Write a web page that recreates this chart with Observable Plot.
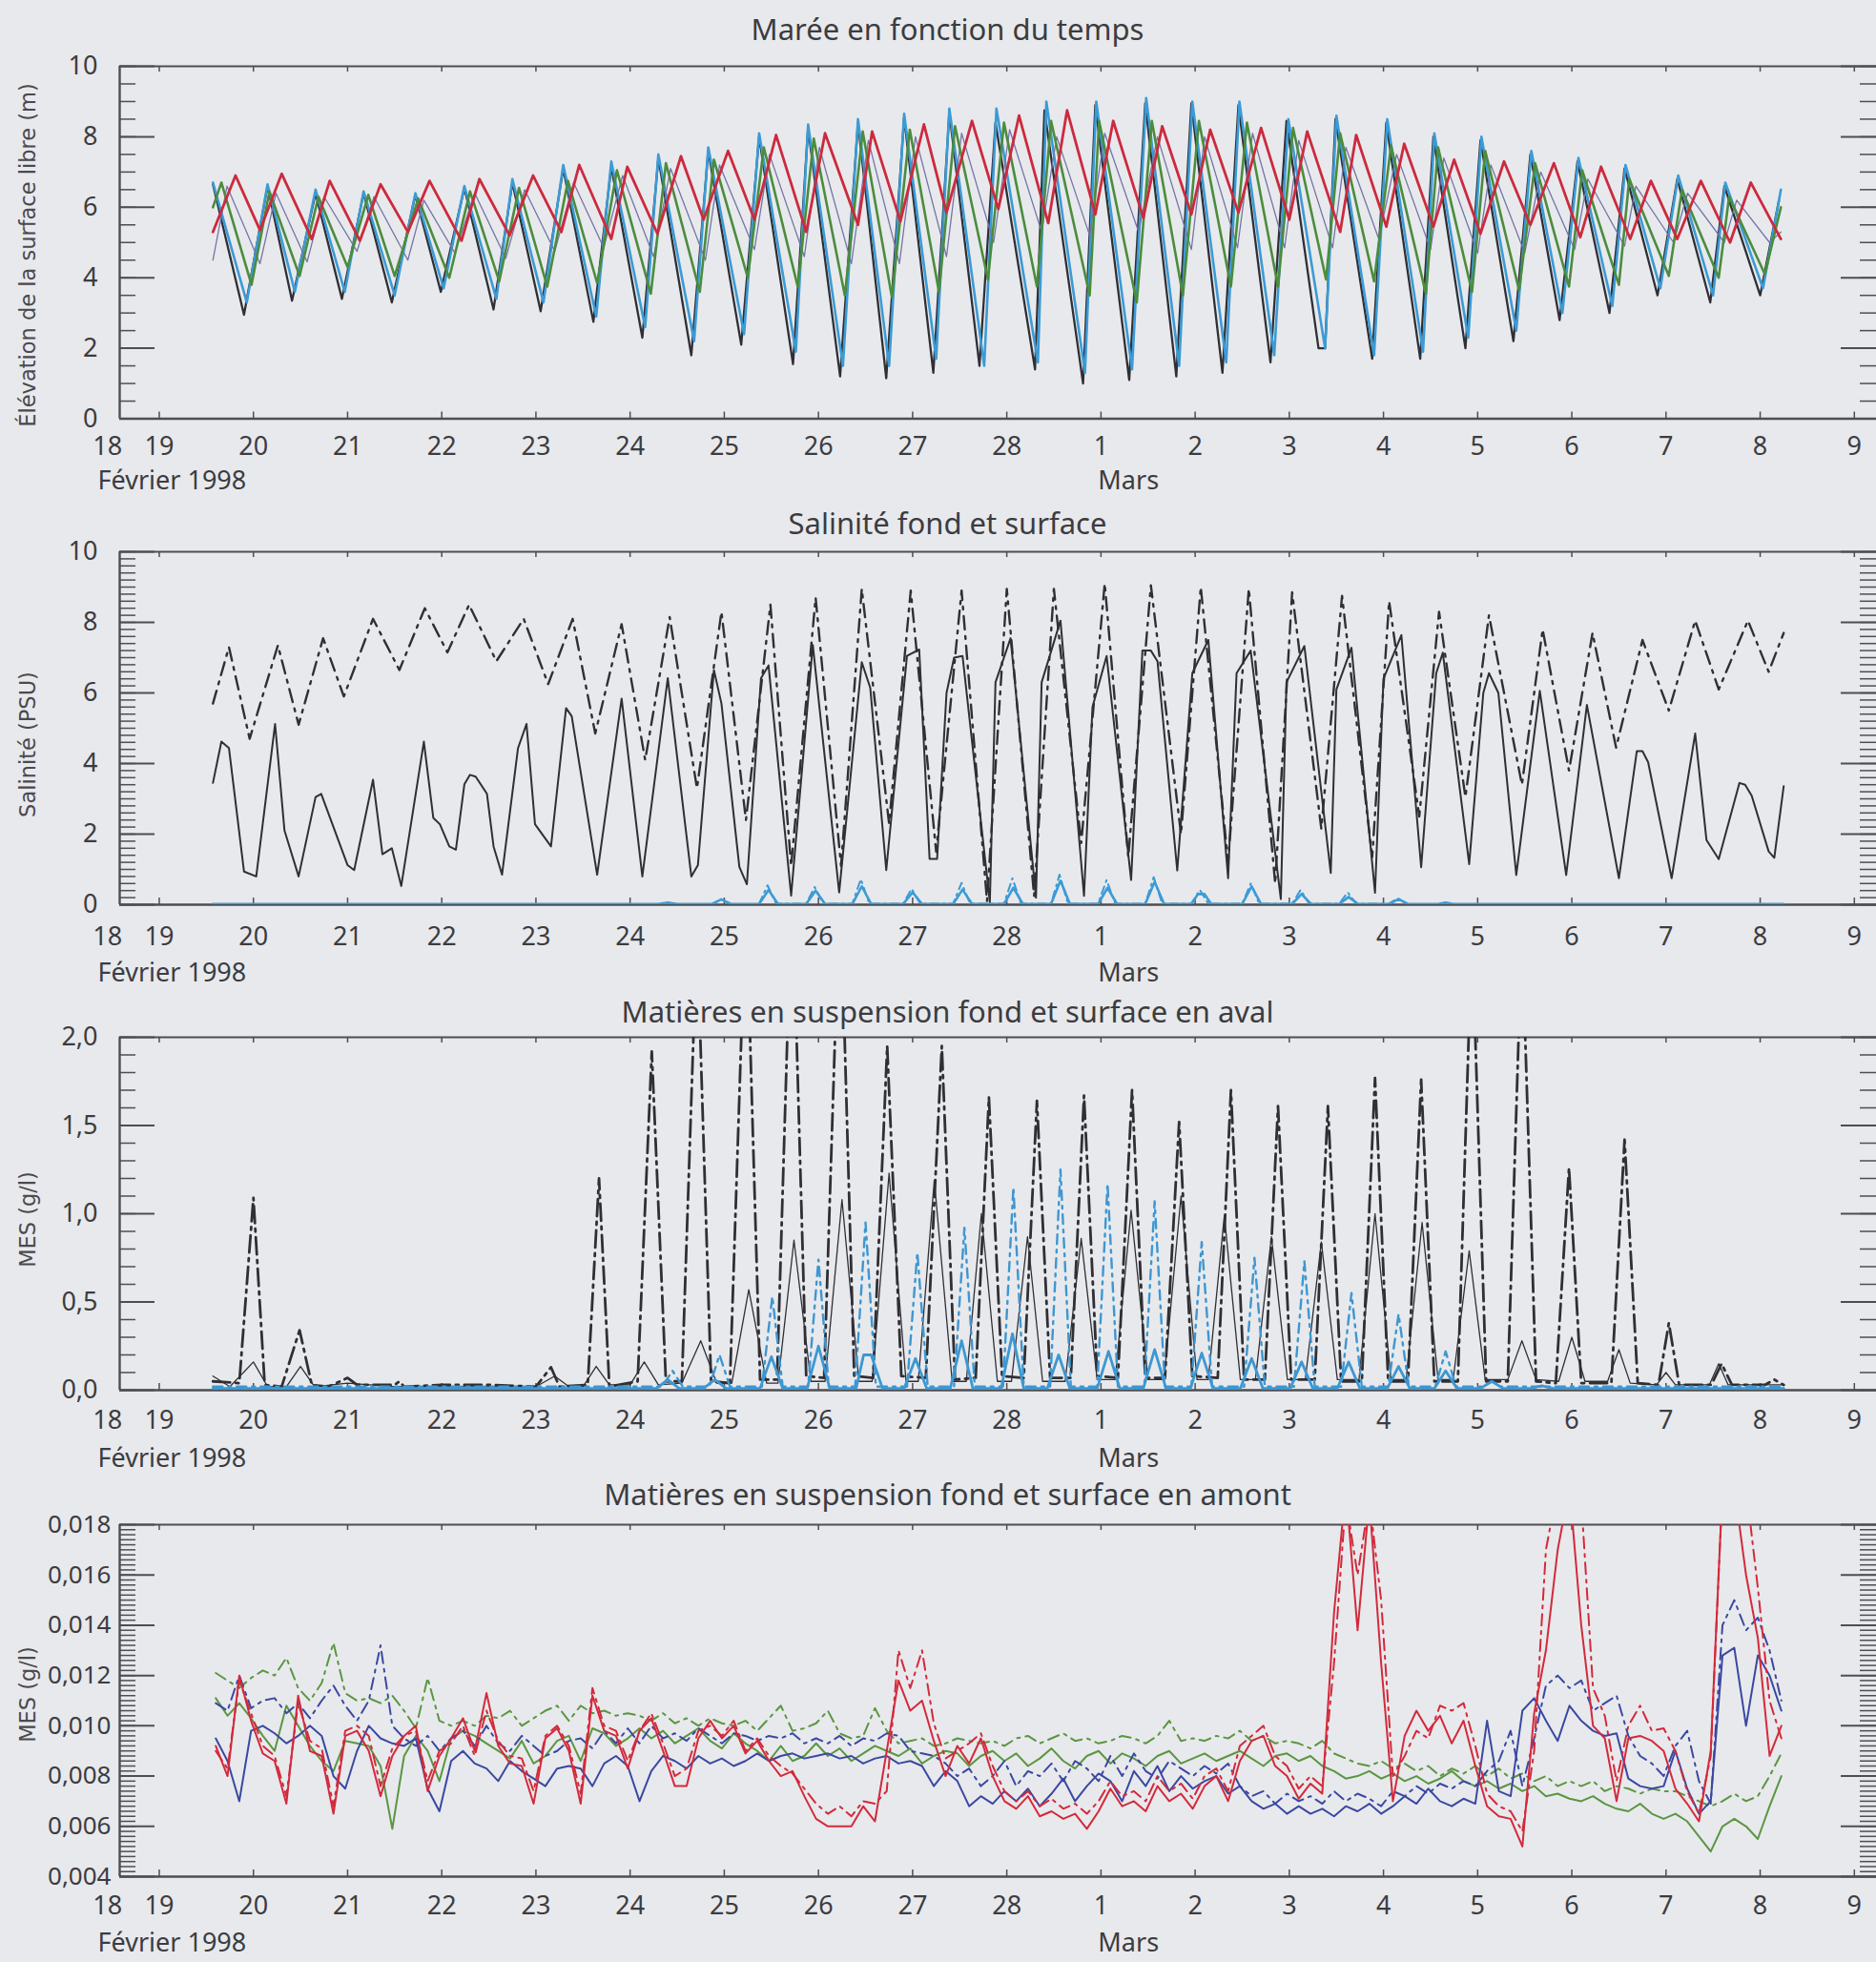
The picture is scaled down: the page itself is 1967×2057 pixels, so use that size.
<!DOCTYPE html>
<html><head><meta charset="utf-8">
<script src="https://cdn.jsdelivr.net/npm/d3@7"></script>
<script src="https://cdn.jsdelivr.net/npm/@observablehq/plot@0.6"></script>
<style>
html,body{margin:0;padding:0;background:#e8e9ec;overflow:hidden;}
#chart{position:relative;width:1967px;height:2057px;overflow:hidden;background:#e8e9ec;}
</style></head><body><div id="chart"></div>
<script>
// ---------- axis categories / tick labels ----------
const xLabelDays = [18.45,19,20,21,22,23,24,25,26,27,28,29,30,31,32,33,34,35,36,37];
const xLabelTexts = ["18","19","20","21","22","23","24","25","26","27","28","1","2","3","4","5","6","7","8","9"];
const xTickDays = [19,20,21,22,23,24,25,26,27,28,29,30,31,32,33,34,35,36,37];
const monthLabels = ["Février 1998","Mars"];
const marsDay = 29;
const titles = ["Marée en fonction du temps","Salinité fond et surface","Matières en suspension fond et surface en aval","Matières en suspension fond et surface en amont"];
const yTitles = ["Élévation de la surface libre (m)","Salinité (PSU)","MES (g/l)","MES (g/l)"];
const yTicks1 = [0,2,4,6,8,10], yLabels1 = ["0","2","4","6","8","10"];
const yTicks3 = [0,0.5,1,1.5,2], yLabels3 = ["0,0","0,5","1,0","1,5","2,0"];
const yTicks4 = [0.004,0.006,0.008,0.010,0.012,0.014,0.016,0.018];
const yLabels4 = ["0,004","0,006","0,008","0,010","0,012","0,014","0,016","0,018"];

// ---------- Panel 1 : tide elevation (m), time in days (Feb 18 = 18, Mar 1 = 29) ----------
const tideBlackT = [19.57,19.90,20.15,20.41,20.66,20.94,21.17,21.47,21.72,21.99,22.24,22.55,22.75,23.05,23.29,23.61,23.80,24.13,24.30,24.65,24.83,25.18,25.37,25.73,25.89,26.23,26.42,26.72,26.91,27.22,27.39,27.71,27.88,28.30,28.40,28.81,28.94,29.30,29.47,29.80,29.96,30.29,30.46,30.80,30.97,31.31,31.38,31.49,31.88,32.03,32.39,32.53,32.87,33.03,33.38,33.56,33.87,34.06,34.40,34.56,34.91,35.12,35.47,35.62,36.00,36.20];
const tideBlackV = [6.65,2.95,6.6,3.35,6.4,3.4,6.4,3.3,6.35,3.6,6.55,3.1,6.7,3.05,7.1,2.75,7.15,2.3,7.4,1.8,7.6,2.1,8.0,1.55,8.25,1.2,8.4,1.15,8.55,1.3,8.7,1.5,8.4,1.4,8.75,1.0,8.9,1.1,8.95,1.2,8.95,1.3,8.9,1.6,8.45,2.0,2.0,8.5,1.7,8.4,1.7,8.0,2.0,7.9,2.2,7.5,2.8,7.3,3.0,7.1,3.5,6.8,3.3,6.6,3.5,6.2];
const tideBlueT = [19.57,19.93,20.15,20.44,20.66,20.97,21.17,21.50,21.72,22.02,22.24,22.58,22.75,23.08,23.29,23.64,23.80,24.16,24.30,24.68,24.83,25.21,25.37,25.76,25.89,26.26,26.42,26.75,26.91,27.25,27.39,27.76,27.89,28.33,28.42,28.83,28.95,29.33,29.48,29.83,29.97,30.33,30.47,30.84,30.99,31.38,31.50,31.90,32.04,32.42,32.54,32.90,33.04,33.41,33.57,33.90,34.07,34.43,34.57,34.94,35.13,35.50,35.63,36.03,36.22];
const tideBlueV = [6.7,3.3,6.65,3.6,6.5,3.6,6.45,3.5,6.4,3.7,6.6,3.4,6.8,3.3,7.2,2.9,7.3,2.6,7.5,2.2,7.7,2.4,8.1,1.9,8.35,1.5,8.5,1.5,8.65,1.7,8.8,1.5,8.8,1.6,9.0,1.3,9.0,1.4,9.1,1.5,9.0,1.6,9.0,1.8,8.5,2.0,8.6,1.8,8.5,1.9,8.1,2.3,8.0,2.5,7.6,3.0,7.4,3.2,7.2,3.7,6.9,3.5,6.7,3.7,6.5];
const tideGreenT = [19.57,19.66,19.98,20.17,20.49,20.69,21.00,21.22,21.50,21.75,22.08,22.30,22.61,22.82,23.12,23.34,23.65,23.86,24.22,24.38,24.74,24.89,25.25,25.42,25.78,25.95,26.28,26.47,26.78,26.97,27.28,27.45,27.80,27.97,28.32,28.47,28.88,28.98,29.38,29.54,29.87,30.04,30.38,30.55,30.88,31.04,31.39,31.54,31.90,32.08,32.45,32.58,32.94,33.08,33.44,33.61,33.97,34.11,34.50,34.61,35.03,35.17,35.56,35.67,36.05,36.22];
const tideGreenV = [6.0,6.7,3.8,6.45,4.05,6.3,4.3,6.35,4.05,6.25,4.0,6.45,3.9,6.55,3.75,6.75,3.85,7.05,3.55,7.25,3.6,7.35,4.0,7.7,3.75,7.95,3.5,8.15,3.45,8.2,3.6,8.3,3.95,8.4,3.75,8.45,3.5,8.45,3.3,8.45,3.5,8.45,3.75,8.4,3.75,8.25,3.95,8.1,3.9,7.75,3.55,7.7,3.6,7.6,3.65,7.25,3.75,7.05,3.8,6.8,4.05,6.5,4.0,6.3,4.1,6.0];
const tidePurpleT = [19.57,19.72,20.07,20.24,20.57,20.75,21.10,21.28,21.64,21.81,22.14,22.35,22.68,22.88,23.20,23.40,23.72,23.92,24.25,24.43,24.80,24.95,25.32,25.48,25.85,26.01,26.35,26.53,26.86,27.03,27.36,27.52,27.86,28.03,28.37,28.53,28.88,29.04,29.40,29.60,29.96,30.10,30.45,30.61,30.95,31.10,31.46,31.60,31.95,32.14,32.50,32.64,33.00,33.14,33.50,33.67,34.03,34.17,34.56,34.68,35.08,35.23,35.62,35.75,36.10,36.22];
const tidePurpleV = [4.5,6.6,4.4,6.4,4.45,6.3,4.75,6.3,4.5,6.2,4.7,6.4,4.55,6.5,4.75,6.7,4.85,6.9,4.6,7.1,4.5,7.2,4.8,7.5,4.6,7.7,4.4,7.9,4.4,8.0,4.6,8.1,5.0,8.2,5.3,8.0,5.2,8.1,5.3,8.0,4.8,8.0,4.85,8.1,4.85,7.9,4.85,7.7,5.1,7.5,4.8,7.4,4.7,7.2,4.7,7.0,4.8,6.8,4.9,6.6,5.0,6.4,5.0,6.2,5.0,5.3];
const tideRedT = [19.57,19.81,20.07,20.30,20.62,20.81,21.13,21.35,21.64,21.87,22.21,22.40,22.72,22.97,23.27,23.46,23.80,23.97,24.29,24.54,24.78,25.04,25.32,25.55,25.87,26.07,26.42,26.57,26.87,27.12,27.36,27.63,27.91,28.13,28.44,28.64,28.94,29.13,29.45,29.65,29.96,30.16,30.46,30.70,31.00,31.19,31.54,31.71,32.03,32.22,32.53,32.75,33.03,33.28,33.56,33.81,34.09,34.31,34.62,34.84,35.12,35.37,35.68,35.90,36.22];
const tideRedV = [5.3,6.9,5.35,6.95,5.1,6.75,5.05,6.65,5.3,6.75,5.05,6.8,5.2,6.9,5.3,7.2,5.1,7.15,5.25,7.45,5.65,7.6,5.65,8.05,5.3,8.1,5.5,8.15,5.6,8.35,5.85,8.45,5.95,8.6,5.55,8.75,5.8,8.45,5.7,8.3,5.8,8.2,5.85,8.25,5.65,8.15,5.3,8.05,5.45,7.8,5.45,7.35,5.25,7.3,5.5,7.25,5.15,7.15,5.1,6.75,5.1,6.75,5.0,6.7,5.1];

// ---------- Panel 2 : salinity (PSU) ----------
const salFondT = [19.57,19.74,19.96,20.26,20.48,20.74,20.96,21.27,21.55,21.82,22.06,22.29,22.58,22.87,23.13,23.39,23.63,23.91,24.16,24.42,24.71,24.97,25.23,25.49,25.71,25.97,26.24,26.46,26.75,26.98,27.25,27.52,27.79,28.00,28.29,28.50,28.79,29.04,29.29,29.53,29.85,30.06,30.35,30.57,30.85,31.03,31.34,31.56,31.88,32.06,32.38,32.59,32.87,33.12,33.47,33.69,33.97,34.22,34.47,34.75,35.03,35.31,35.56,35.87,36.09,36.25];
const salFondV = [5.7,7.3,4.7,7.35,5.1,7.55,5.9,8.1,6.65,8.4,7.15,8.5,6.9,8.1,6.25,8.1,4.85,7.95,4.1,8.15,3.3,8.3,2.4,8.5,1.1,8.7,1.1,8.95,2.3,8.9,1.5,8.9,0.1,8.95,0.25,8.95,1.75,9.1,1.35,9.05,2.0,9.0,1.2,8.95,0.6,8.85,2.15,8.75,1.35,8.6,2.5,8.3,3.05,8.2,3.4,7.8,3.8,7.7,4.45,7.5,5.5,8.05,6.1,8.05,6.6,7.7];
const salSurfT = [19.57,19.66,19.74,19.90,20.03,20.23,20.33,20.48,20.66,20.72,21.00,21.07,21.27,21.37,21.47,21.57,21.81,21.91,21.98,22.08,22.15,22.24,22.30,22.36,22.48,22.55,22.64,22.81,22.90,22.99,23.16,23.32,23.38,23.65,23.91,24.13,24.40,24.65,24.72,24.89,24.97,25.16,25.24,25.39,25.47,25.71,25.94,26.22,26.46,26.55,26.72,26.94,27.07,27.18,27.26,27.36,27.44,27.53,27.82,27.88,28.04,28.31,28.37,28.57,28.82,28.91,29.06,29.32,29.44,29.53,29.60,29.81,29.97,30.14,30.35,30.44,30.59,30.91,30.97,31.16,31.44,31.50,31.66,31.91,32.00,32.19,32.40,32.56,32.63,32.91,33.06,33.12,33.22,33.41,33.66,33.94,34.16,34.50,34.69,34.75,34.81,35.06,35.31,35.43,35.56,35.78,35.84,35.91,36.09,36.15,36.25];
const salSurfV = [3.45,4.62,4.44,0.94,0.8,5.12,2.1,0.8,3.05,3.14,1.12,0.98,3.54,1.43,1.6,0.53,4.62,2.46,2.28,1.65,1.56,3.41,3.68,3.63,3.14,1.65,0.85,4.44,5.12,2.28,1.65,5.57,5.34,0.85,5.84,0.8,6.42,0.8,1.12,6.65,5.7,1.07,0.58,6.42,6.78,0.26,7.36,0.35,6.87,6.15,0.98,7.05,7.23,1.3,1.3,6.0,7.0,7.05,0.07,6.3,7.55,0.2,6.3,8.05,0.25,5.6,7.05,0.7,7.2,7.2,6.9,0.97,6.56,7.5,0.75,6.56,7.2,0.16,6.3,7.33,0.9,6.1,7.28,0.34,6.4,7.64,1.06,6.56,7.14,1.15,6.0,6.56,6.0,0.84,6.06,0.84,5.66,0.75,4.35,4.35,4.04,0.75,4.85,1.83,1.29,3.45,3.4,3.09,1.51,1.33,3.36];
const salBlueT = [19.57, 24.3,24.4,24.5, 24.87,24.97,25.07, 25.37,25.47,25.57, 25.87,25.97,26.07, 26.36,26.46,26.56, 26.90,27.0,27.1, 27.43,27.53,27.63, 27.97,28.07,28.17, 28.47,28.57,28.67, 28.97,29.07,29.17, 29.47,29.57,29.67, 29.96,30.03,30.10,30.17, 30.50,30.60,30.70, 31.03,31.13,31.23, 31.53,31.63,31.73, 32.06,32.16,32.26, 32.58,32.66,32.74, 36.25];
const salBlueV = [0.02, 0.02,0.06,0.02, 0.02,0.15,0.02, 0.02,0.42,0.02, 0.02,0.40,0.02, 0.02,0.52,0.02, 0.02,0.35,0.02, 0.02,0.43,0.02, 0.02,0.48,0.02, 0.02,0.68,0.02, 0.02,0.48,0.02, 0.02,0.65,0.02, 0.02,0.30,0.30,0.02, 0.02,0.52,0.02, 0.02,0.30,0.02, 0.02,0.22,0.02, 0.02,0.16,0.02, 0.02,0.06,0.02, 0.02];
const salBlueDashT = [25.37,25.46,25.55, 25.87,25.96,26.05, 26.36,26.45,26.54, 26.90,26.99,27.08, 27.43,27.52,27.61, 27.97,28.06,28.15, 28.47,28.56,28.65, 28.97,29.06,29.15, 29.47,29.56,29.65, 29.96,30.05,30.14, 30.50,30.59,30.68, 31.03,31.12,31.21, 31.53,31.62,31.71, 32.06,32.15,32.24];
const salBlueDashV = [0.03,0.55,0.03, 0.03,0.5,0.03, 0.03,0.72,0.03, 0.03,0.45,0.03, 0.03,0.62,0.03, 0.03,0.75,0.03, 0.03,0.85,0.03, 0.03,0.7,0.03, 0.03,0.78,0.03, 0.03,0.42,0.03, 0.03,0.6,0.03, 0.03,0.42,0.03, 0.03,0.35,0.03, 0.03,0.18,0.03];

// ---------- Panel 3 : MES aval (g/l) ----------
const avalFondT = [19.57,19.85,20.0,20.12,20.3,20.49,20.62,20.8,21.0,21.1,21.5,21.55,21.6,22.0,22.5,23.0,23.16,23.25,23.55,23.67,23.78,24.08,24.23,24.38,24.55,24.71,24.86,25.06,25.23,25.38,25.56,25.72,25.87,26.06,26.23,26.38,26.58,26.73,26.88,27.14,27.31,27.45,27.67,27.81,27.95,28.18,28.32,28.46,28.68,28.82,28.96,29.18,29.33,29.47,29.68,29.83,29.97,30.24,30.38,30.52,30.74,30.88,31.02,31.27,31.41,31.55,31.77,31.91,32.05,32.26,32.40,32.54,32.79,32.94,33.09,33.32,33.47,33.62,33.83,33.97,34.1,34.42,34.56,34.7,34.92,35.03,35.14,35.48,35.59,35.7,36.05,36.15,36.25];
const avalFondV = [0.05,0.04,1.09,0.03,0.02,0.34,0.03,0.02,0.07,0.03,0.03,0.05,0.02,0.03,0.03,0.02,0.13,0.02,0.03,1.2,0.02,0.05,1.92,0.05,0.05,2.6,0.05,0.04,2.8,0.06,0.06,2.9,0.08,0.07,2.9,0.08,0.07,1.95,0.08,0.07,1.95,0.06,0.07,1.66,0.08,0.07,1.64,0.07,0.07,1.67,0.08,0.07,1.70,0.07,0.07,1.52,0.08,0.07,1.70,0.06,0.06,1.61,0.06,0.06,1.61,0.05,0.05,1.77,0.05,0.05,1.76,0.05,0.05,2.6,0.05,0.05,2.6,0.05,0.04,1.26,0.04,0.04,1.42,0.04,0.03,0.38,0.03,0.03,0.15,0.03,0.03,0.06,0.03];
const avalSurfT = [19.57,19.75,20.0,20.15,20.35,20.5,20.65,21.0,21.5,22.0,23.0,23.2,23.35,23.5,23.64,23.78,24.0,24.15,24.3,24.55,24.75,24.92,25.08,25.26,25.45,25.57,25.74,25.92,26.07,26.25,26.43,26.57,26.75,26.93,27.06,27.23,27.42,27.57,27.73,27.90,28.05,28.22,28.38,28.62,28.79,28.96,29.15,29.32,29.50,29.67,29.85,30.02,30.14,30.31,30.48,30.64,30.81,30.98,31.17,31.34,31.51,31.74,31.91,32.08,32.24,32.41,32.58,32.74,32.91,33.08,33.32,33.47,33.62,33.86,34.0,34.14,34.38,34.5,34.62,34.9,35.0,35.1,35.46,35.56,35.66,36.25];
const avalSurfV = [0.08,0.02,0.16,0.02,0.02,0.135,0.02,0.04,0.02,0.02,0.02,0.08,0.02,0.02,0.135,0.03,0.03,0.16,0.03,0.04,0.28,0.04,0.04,0.57,0.04,0.04,0.85,0.05,0.05,1.08,0.05,0.05,1.23,0.05,0.05,1.19,0.05,0.05,1.0,0.05,0.05,0.87,0.05,0.05,0.86,0.06,0.06,1.02,0.06,0.06,1.1,0.06,0.06,0.99,0.06,0.06,0.87,0.06,0.06,0.84,0.06,0.06,1.0,0.06,0.06,0.95,0.06,0.06,0.79,0.06,0.06,0.28,0.06,0.05,0.3,0.05,0.05,0.23,0.04,0.03,0.1,0.03,0.03,0.15,0.03,0.03];
const avalBlueDashT = [19.57,24.34,24.45,24.56,24.84,24.95,25.06,25.40,25.51,25.62,25.89,26.0,26.11,26.39,26.5,26.61,26.94,27.05,27.16,27.44,27.55,27.66,27.96,28.07,28.18,28.46,28.57,28.68,28.96,29.07,29.18,29.46,29.57,29.68,29.96,30.07,30.18,30.52,30.63,30.74,31.05,31.16,31.27,31.55,31.66,31.77,32.05,32.16,32.27,32.55,32.66,32.77,33.06,33.15,33.24,36.25];
const avalBlueDashV = [0.02, 0.02,0.11,0.02, 0.02,0.2,0.02, 0.02,0.53,0.02, 0.02,0.74,0.02, 0.02,0.95,0.02, 0.02,0.78,0.02, 0.02,0.92,0.02, 0.02,1.15,0.02, 0.02,1.25,0.02, 0.02,1.17,0.02, 0.02,1.07,0.02, 0.02,0.84,0.02, 0.02,0.75,0.02, 0.02,0.73,0.02, 0.02,0.55,0.02, 0.02,0.43,0.02, 0.02,0.22,0.02, 0.02,0.05,0.02, 0.02];
const avalBlueT = [19.57, 24.28,24.4,24.52, 24.78,24.9,25.02, 25.38,25.5,25.62, 25.88,26.0,26.12, 26.40,26.48,26.56,26.68, 26.91,27.03,27.15, 27.40,27.52,27.64, 27.94,28.06,28.18, 28.43,28.55,28.67, 28.96,29.08,29.20, 29.45,29.57,29.69, 29.95,30.07,30.19, 30.48,30.60,30.72, 31.01,31.13,31.25, 31.51,31.63,31.75, 32.04,32.16,32.28, 32.54,32.66,32.78, 33.03,33.15,33.27, 33.56,33.68,33.8, 36.25];
const avalBlueV = [0.01, 0.01,0.06,0.01, 0.01,0.06,0.01, 0.01,0.19,0.01, 0.01,0.25,0.01, 0.01,0.2,0.2,0.01, 0.01,0.18,0.01, 0.01,0.28,0.01, 0.01,0.32,0.01, 0.01,0.2,0.01, 0.01,0.22,0.01, 0.01,0.23,0.01, 0.01,0.21,0.01, 0.01,0.18,0.01, 0.01,0.16,0.01, 0.01,0.16,0.01, 0.01,0.135,0.01, 0.01,0.11,0.01, 0.01,0.05,0.01, 0.01,0.025,0.01, 0.01];

// ---------- Panel 4 : MES amont, values in mg/l (= 0.001 g/l), 3-hourly ----------
const amontT = [19.6,19.725,19.85,19.975,
20.1,20.225,20.35,20.475,20.6,20.725,20.85,20.975,
21.1,21.225,21.35,21.475,21.6,21.725,21.85,21.975,
22.1,22.225,22.35,22.475,22.6,22.725,22.85,22.975,
23.1,23.225,23.35,23.475,23.6,23.725,23.85,23.975,
24.1,24.225,24.35,24.475,24.6,24.725,24.85,24.975,
25.1,25.225,25.35,25.475,25.6,25.725,25.85,25.975,
26.1,26.225,26.35,26.475,26.6,26.725,26.85,26.975,
27.1,27.225,27.35,27.475,27.6,27.725,27.85,27.975,
28.1,28.225,28.35,28.475,28.6,28.725,28.85,28.975,
29.1,29.225,29.35,29.475,29.6,29.725,29.85,29.975,
30.1,30.225,30.35,30.475,30.6,30.725,30.85,30.975,
31.1,31.225,31.35,31.475,31.6,31.725,31.85,31.975,
32.1,32.225,32.35,32.475,32.6,32.725,32.85,32.975,
33.1,33.225,33.35,33.475,33.6,33.725,33.85,33.975,
34.1,34.225,34.35,34.475,34.6,34.725,34.85,34.975,
35.1,35.225,35.35,35.475,35.6,35.725,35.85,35.975,
36.1,36.225];
const amontGreenDash = [12.1,11.8,11.5,11.9,
12.2,12.0,12.7,11.5,11.0,11.7,13.3,11.3,
11.0,11.1,10.9,11.2,10.6,9.9,11.9,10.2,
10.0,10.2,10.0,10.4,10.3,10.6,10.0,10.3,
10.6,10.8,10.2,10.8,10.5,10.6,10.4,10.5,
10.4,10.2,10.5,10.1,10.3,10.0,10.3,10.1,
10.0,10.2,9.8,10.3,10.8,9.8,9.9,10.1,
10.6,9.7,9.5,9.6,10.7,9.8,9.3,9.4,
9.5,9.2,9.3,9.5,9.4,9.3,9.4,9.2,
9.5,9.6,9.3,9.5,9.7,9.4,9.5,9.3,
9.4,9.6,9.5,9.3,9.6,10.2,9.4,9.5,
9.4,9.6,9.5,9.8,9.4,9.6,9.3,9.4,
9.3,9.1,9.4,8.9,8.7,8.5,8.4,8.6,
8.3,8.5,8.2,8.4,8.0,8.3,8.1,8.4,
8.0,8.3,7.9,8.1,7.8,8.0,7.6,7.8,
7.6,7.8,7.4,7.6,7.5,7.3,7.5,7.4,
7.4,7.2,7.0,6.8,7.0,7.3,7.0,7.2,
8.0,8.9];
const amontGreen = [11.1,10.4,10.9,10.3,
9.6,9.0,10.8,10.0,9.2,8.6,8.2,9.4,
9.3,9.2,8.4,5.9,8.8,9.6,9.0,7.8,
9.5,9.8,9.6,9.3,9.0,8.7,9.4,8.5,
8.8,9.4,9.6,8.6,9.9,9.7,9.2,9.5,
9.9,9.5,9.8,9.3,9.6,9.9,9.4,9.1,
9.7,9.3,9.0,8.6,9.2,8.6,8.8,9.3,
8.8,9.1,8.6,8.9,9.2,9.0,8.8,9.1,
8.5,8.8,9.0,8.9,8.4,8.8,9.0,8.6,
8.9,8.4,8.7,9.1,8.6,8.3,8.8,9.0,
8.5,8.9,8.7,8.4,8.8,9.0,8.5,8.7,
8.9,8.6,8.8,9.0,8.7,8.4,8.8,8.9,
8.6,8.8,8.4,8.2,7.9,8.0,8.2,7.9,
8.1,7.8,8.0,7.7,7.9,8.2,7.8,7.6,
7.8,7.5,7.7,7.4,7.6,7.2,7.3,7.1,
7.0,7.2,6.9,6.7,6.6,6.9,6.5,6.3,
6.5,6.2,5.6,5.0,6.0,6.3,6.0,5.5,
6.8,8.0];
const amontBlueDash = [10.9,10.6,12.0,10.7,
11.0,11.1,10.5,10.9,10.3,11.0,11.6,10.8,
10.2,11.0,13.2,10.0,9.5,9.2,9.6,9.0,
9.5,9.8,9.2,10.0,9.3,9.0,9.6,9.2,
8.8,9.0,9.4,9.5,9.1,9.8,9.3,9.9,
9.3,10.0,9.5,9.7,9.4,9.9,9.6,9.3,
9.7,9.6,9.4,9.6,9.5,9.7,9.3,9.5,
9.3,9.6,9.2,9.5,9.4,9.7,9.6,9.0,
8.9,8.8,8.5,8.0,8.3,7.6,8.0,8.6,
7.6,8.2,8.0,8.5,7.8,8.6,8.3,7.8,
8.8,8.0,8.9,8.2,7.9,8.6,8.3,8.0,
8.4,8.1,8.5,7.6,7.2,7.4,6.9,7.3,
7.0,7.2,6.9,7.4,7.0,7.3,7.1,6.8,
7.4,7.2,7.6,7.3,7.7,7.5,7.8,7.6,
8.2,8.6,9.8,7.6,9.5,11.6,12.0,11.5,
11.8,10.6,10.9,11.2,9.6,8.8,8.5,8.0,
9.2,9.8,7.8,6.9,14.0,15.0,13.8,14.3,
13.0,11.0];
const amontBlue = [9.5,8.6,7.0,9.8,
10.0,9.7,9.3,9.6,10.0,9.6,8.0,7.5,
9.0,10.0,9.5,9.3,9.2,9.5,7.5,6.6,
8.6,9.0,8.5,8.3,7.8,8.6,8.2,7.9,
7.6,8.3,8.4,8.3,7.6,8.5,8.8,8.4,
7.0,8.2,8.8,8.6,8.3,8.8,8.5,8.7,
8.4,8.6,8.9,8.6,8.8,8.9,8.7,8.8,
8.9,8.7,8.8,8.5,8.7,8.8,8.5,8.6,
8.4,7.6,8.2,7.8,6.8,7.2,6.9,7.4,
7.0,7.5,6.8,7.3,7.9,7.0,7.6,8.1,
7.8,7.0,8.2,7.6,8.4,7.4,8.0,7.5,
7.8,8.0,7.3,7.6,7.0,6.7,6.9,6.5,
6.8,6.5,6.7,6.4,6.8,6.6,6.9,6.5,
6.8,7.2,6.9,7.5,7.0,6.8,7.1,6.9,
10.2,7.4,7.2,10.6,11.1,10.2,9.4,10.8,
10.2,9.8,9.6,9.7,7.9,7.6,7.5,7.6,
9.0,7.5,6.5,7.0,12.8,13.1,10.0,12.8,
12.0,10.6];
const amontRedDash = [9.0,8.3,11.8,10.5,
9.2,8.8,7.2,10.9,9.4,9.1,6.8,9.8,
10.0,9.6,7.6,9.1,9.6,9.8,7.8,9.0,
9.3,10.0,8.8,10.6,9.4,8.8,8.7,7.4,
9.6,10.0,9.2,7.3,11.5,10.0,9.8,8.6,
9.8,10.5,9.3,8.0,8.3,9.8,10.0,9.6,
10.2,9.0,9.5,8.8,8.4,8.1,7.5,6.9,
6.5,6.8,6.4,7.0,6.9,7.4,13.0,11.5,
13.0,10.1,8.7,9.0,9.3,9.7,8.4,7.4,
7.0,7.4,6.8,7.1,6.7,6.9,6.5,7.0,
7.8,7.2,7.4,7.0,8.0,7.4,7.7,7.1,
8.0,8.3,7.4,9.2,9.6,10.0,8.8,8.4,
7.5,8.0,7.6,12.5,19.0,16.0,19.0,15.0,
8.0,8.8,9.8,9.5,10.8,10.6,10.9,9.2,
7.3,6.8,6.6,5.8,9.0,17.0,19.5,19.5,
19.0,11.5,10.4,7.8,10.0,10.8,9.8,9.9,
9.0,7.4,6.5,8.8,19.5,19.5,19.5,15.5,
11.0,9.5];
const amontRed = [9.2,8.0,12.0,10.2,
8.9,8.6,6.9,11.2,9.0,8.8,6.5,9.6,
9.8,9.0,7.2,8.8,9.6,10.0,7.4,8.8,
9.5,10.3,9.0,11.3,9.2,8.5,8.4,6.9,
9.5,9.9,9.0,6.9,11.2,9.8,9.6,8.3,
9.8,10.3,9.0,7.6,7.6,9.5,10.2,9.5,
10.0,8.9,9.4,8.6,8.0,8.2,7.2,6.3,
6.0,6.0,6.0,6.8,6.2,9.0,11.8,10.6,
11.0,9.4,8.0,9.2,8.5,9.5,8.0,7.0,
6.7,7.2,6.4,6.6,6.3,6.5,5.9,6.6,
7.5,6.8,7.0,6.6,7.6,7.0,7.3,6.7,
7.6,8.0,7.0,8.6,9.4,9.6,8.4,8.0,
7.1,7.7,7.3,14.5,19.5,13.8,19.0,12.5,
7.0,9.6,10.6,9.8,10.4,9.3,10.2,8.4,
6.8,6.4,6.3,5.2,10.5,13.0,17.0,19.5,
14.0,10.0,9.5,7.0,9.5,9.6,9.4,9.0,
7.5,6.9,6.2,9.0,19.5,19.5,16.0,13.5,
8.8,10.0];

// ---------- rendering ----------
const W = 1967, ML = 125, TITLE_X = 993;
const X_DOMAIN = [18.58, 37.235];
const C = {axis:"#4e4e52", text:"#3c3c40", black:"#2f2f35", lblue:"#3b9bd6", green:"#4b8c3e", red:"#cc2a3e", purple:"#7474a8", navy:"#3a48a2", green4:"#5a9642", red4:"#d22a3c", blue3:"#3d97d2"};
const FONT = "'Noto Sans', 'Liberation Sans', Arial, sans-serif";
const YFONT = "'DejaVu Sans', Verdana, sans-serif";
const mg = a => a.map(v => v / 1000);

function panel(cfg) {
  const fh = cfg.frameBottom - cfg.frameTop;
  const fw = W - ML;
  const txt = {fill: C.text, fontFamily: FONT, fontSize: 27};
  const marks = [
    Plot.ruleY([cfg.yDomain[0]], {y: d => d, stroke: C.axis, strokeWidth: 2.4}),
    Plot.ruleY([cfg.yDomain[1]], {y: d => d, stroke: C.axis, strokeWidth: 2}),
    Plot.ruleX([X_DOMAIN[0]], {x: d => d, stroke: C.axis, strokeWidth: 2.4}),
    Plot.tickY(cfg.yMinor, {y: d => d, stroke: C.axis, strokeWidth: 1.5, insetRight: fw - 17}),
    Plot.tickY(cfg.yMinor, {y: d => d, stroke: C.axis, strokeWidth: 1.5, insetLeft: fw - 17}),
    Plot.tickY(cfg.yMajor, {y: d => d, stroke: C.axis, strokeWidth: 2, insetRight: fw - 37}),
    Plot.tickY(cfg.yMajor, {y: d => d, stroke: C.axis, strokeWidth: 2, insetLeft: fw - 37}),
    Plot.tickX(xTickDays, {x: d => d, stroke: C.axis, strokeWidth: 1.5, insetTop: fh - 7}),
    Plot.tickX(xTickDays, {x: d => d, stroke: C.axis, strokeWidth: 1.5, insetBottom: fh - 6}),
    ...cfg.lines.map(l => Plot.line(l.t, {x: l.t, y: l.v, stroke: l.color, strokeWidth: l.width, strokeDasharray: l.dash, clip: true, strokeLinejoin: "round"})),
    Plot.text(cfg.yMajor, {y: d => d, text: (d, i) => cfg.yLabels[i], frameAnchor: "left", dx: -cfg.labelGap, textAnchor: "end", lineAnchor: "middle", ...txt, fontSize: cfg.yFontSize || 27}),
    Plot.text(xLabelDays, {x: d => d, text: (d, i) => xLabelTexts[i], frameAnchor: "bottom", dy: cfg.tickDy, lineAnchor: "middle", ...txt}),
    Plot.text([monthLabels[0]], {text: d => d, frameAnchor: "bottom-left", dx: -23, dy: cfg.monthDy, textAnchor: "start", lineAnchor: "middle", ...txt}),
    Plot.text([monthLabels[1]], {text: d => d, x: [marsDay], frameAnchor: "bottom", dx: -3, dy: cfg.monthDy, textAnchor: "start", lineAnchor: "middle", ...txt}),
    Plot.text([cfg.title], {text: d => d, frameAnchor: "top-left", dx: TITLE_X - ML, dy: cfg.titleY - cfg.frameTop, textAnchor: "middle", lineAnchor: "middle", ...txt, fontSize: 31}),
    Plot.text([cfg.ylabel], {text: d => d, frameAnchor: "left", dx: 29 - ML, dy: cfg.ylabelY - (cfg.frameTop + cfg.frameBottom) / 2, rotate: -90, textAnchor: "middle", lineAnchor: "middle", fill: "#4a4a4e", fontFamily: YFONT, fontSize: 22.5})
  ];
  const svg = Plot.plot({
    width: W, height: cfg.height,
    marginTop: cfg.frameTop - cfg.top, marginBottom: cfg.top + cfg.height - cfg.frameBottom,
    marginLeft: ML, marginRight: 0,
    x: {domain: X_DOMAIN, axis: null},
    y: {domain: cfg.yDomain, axis: null},
    style: {background: "transparent", overflow: "visible", maxWidth: "none"},
    marks
  });
  svg.style.position = "absolute";
  svg.style.left = "0px";
  svg.style.top = cfg.top + "px";
  document.getElementById("chart").appendChild(svg);
}

panel({
  top: 0, height: 520, frameTop: 69, frameBottom: 438.5, yDomain: [0, 10],
  yMajor: yTicks1, yLabels: yLabels1, yMinor: d3.range(0, 10.001, 0.5), labelGap: 23,
  title: titles[0], titleY: 32, ylabel: yTitles[0], ylabelY: 267, tickDy: 29, monthDy: 65,
  lines: [
    {t: tideBlackT, v: tideBlackV, color: C.black, width: 2.3},
    {t: tideBlueT, v: tideBlueV, color: C.lblue, width: 2.6},
    {t: tidePurpleT, v: tidePurpleV, color: C.purple, width: 1.3},
    {t: tideGreenT, v: tideGreenV, color: C.green, width: 2.6},
    {t: tideRedT, v: tideRedV, color: C.red, width: 2.8}
  ]
});
panel({
  top: 520, height: 520, frameTop: 578, frameBottom: 948, yDomain: [0, 10],
  yMajor: yTicks1, yLabels: yLabels1, yMinor: d3.range(0, 10.001, 0.2), labelGap: 23,
  title: titles[1], titleY: 550, ylabel: yTitles[1], ylabelY: 780, tickDy: 34, monthDy: 72,
  lines: [
    {t: salFondT, v: salFondV, color: C.black, width: 2.4, dash: "14,7,3,7"},
    {t: salSurfT, v: salSurfV, color: C.black, width: 2},
    {t: salBlueDashT, v: salBlueDashV, color: C.lblue, width: 2, dash: "8,5,2,5"},
    {t: salBlueT, v: salBlueV, color: C.lblue, width: 2.6}
  ]
});
panel({
  top: 1040, height: 520, frameTop: 1087, frameBottom: 1457, yDomain: [0, 2],
  yMajor: yTicks3, yLabels: yLabels3, yMinor: d3.range(0, 2.0001, 0.1), labelGap: 23,
  title: titles[2], titleY: 1062, ylabel: yTitles[2], ylabelY: 1278, tickDy: 31.5, monthDy: 71.5,
  lines: [
    {t: avalFondT, v: avalFondV, color: C.black, width: 2.8, dash: "18,6,3,6"},
    {t: avalSurfT, v: avalSurfV, color: C.black, width: 1.3},
    {t: avalBlueDashT, v: avalBlueDashV, color: C.blue3, width: 2.4, dash: "10,6,3,6"},
    {t: avalBlueT, v: avalBlueV, color: C.blue3, width: 2.8}
  ]
});
panel({
  top: 1540, height: 517, frameTop: 1598, frameBottom: 1967, yDomain: [0.004, 0.018],
  yMajor: yTicks4, yLabels: yLabels4, yMinor: d3.range(0.004, 0.01800001, 0.0002), labelGap: 9, yFontSize: 26,
  title: titles[3], titleY: 1568, ylabel: yTitles[3], ylabelY: 1776, tickDy: 31, monthDy: 70,
  lines: [
    {t: amontT, v: mg(amontGreenDash), color: C.green4, width: 2, dash: "12,6,3,6"},
    {t: amontT, v: mg(amontGreen), color: C.green4, width: 2},
    {t: amontT, v: mg(amontBlueDash), color: C.navy, width: 2, dash: "12,6,3,6"},
    {t: amontT, v: mg(amontBlue), color: C.navy, width: 2},
    {t: amontT, v: mg(amontRedDash), color: C.red4, width: 2, dash: "12,6,3,6"},
    {t: amontT, v: mg(amontRed), color: C.red4, width: 2}
  ]
});
</script></body></html>
